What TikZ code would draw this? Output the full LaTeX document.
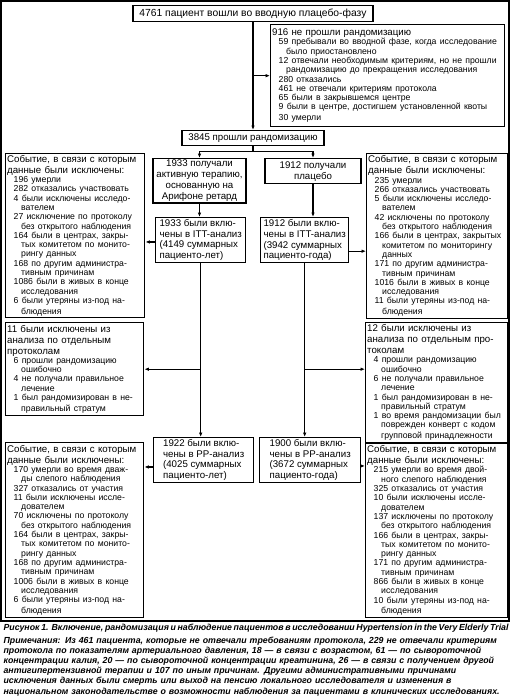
\documentclass[tikz,border=0pt]{standalone}
\usepackage{fontspec}
\setmainfont{Liberation Sans}
\usetikzlibrary{arrows.meta,positioning,calc}
\newcommand{\hd}{\fontsize{9.7}{10.8}\selectfont}
\newcommand{\sm}{\fontsize{8.7}{9.3}\selectfont}
\newcommand{\tp}{\fontsize{10.3}{12}\selectfont}
\newcommand{\capf}{\fontsize{8.8}{10.2}\selectfont\bfseries\itshape}
\newcommand{\ia}{\hspace*{6.5pt}}
\newcommand{\ib}{\hspace*{14pt}}
\newcommand{\capl}[1]{\makebox[505pt][s]{#1}}

\begin{document}
\begin{tikzpicture}[x=1pt,y=-1pt,font=\hd,line width=1.1pt,
  b/.style={draw,line width=1.4pt,anchor=north west,align=left,inner sep=1.5pt},
  c/.style={b,align=center},
  >={Latex[length=4.5pt,width=3.6pt]}]
\useasboundingbox (0,0) rectangle (510,696);
\draw[line width=1.4pt] (1,1) rectangle (509,621);
\node[b,anchor=north,minimum width=240pt,minimum height=16pt,font=\tp] (in) at (253,5) {4761 пациент вошли во вводную плацебо-фазу};
\node[b,text width=231pt,minimum height=102pt] (ex0) at (270,24) {916 не прошли рандомизацию\\
\sm\ia 59 пребывали во вводной фазе, когда исследование\\
\ib было приостановлено\\
\ia 12 отвечали необходимым критериям, но не прошли\\
\ib рандомизацию до прекращения исследования\\
\ia 280 отказались\\
\ia 461 не отвечали критериям протокола\\
\ia 65 были в закрывшемся центре\\
\ia 9 были в центре, достигшем установленной квоты\\
\ia 30 умерли};
\node[b,anchor=north,minimum width=142pt,minimum height=15pt] (rnd) at (253,130) {3845 прошли рандомизацию};
\node[c,anchor=north,minimum width=93pt,minimum height=43pt] (act) at (199.5,158) {1933 получали\\активную терапию,\\основанную на\\Арифоне ретард};
\node[c,anchor=north,minimum width=96pt,minimum height=25pt] (plc) at (313,158) {1912 получали\\плацебо};
\node[b,minimum width=90pt,minimum height=44pt] (itta) at (155,217) {1933 были вклю-\\чены в ITT-анализ\\(4149 суммарных\\пациенто-лет)};
\node[b,minimum width=88pt,minimum height=45pt] (ittp) at (260,217) {1912 были вклю-\\чены в ITT-анализ\\(3942 суммарных\\пациенто-года)};
\node[b,text width=136pt,minimum height=164pt] (exL1) at (5,153) {Событие, в связи с которым\\данные были исключены:\\
\sm\ia 196 умерли\\
\ia 282 отказались участвовать\\
\ia 4 были исключены исследо-\\
\ib вателем\\
\ia 27 исключение по протоколу\\
\ib без открытого наблюдения\\
\ia 164 были в центрах, закры-\\
\ib тых комитетом по монито-\\
\ib рингу данных\\
\ia 168 по другим администра-\\
\ib тивным причинам\\
\ia 1086 были в живых в конце\\
\ib исследования\\
\ia 6 были утеряны из-под на-\\
\ib блюдения};
\node[b,text width=138pt,minimum height=165pt] (exR1) at (366,153) {Событие, в связи с которым\\данные были исключены:\\
\sm\ia 235 умерли\\
\ia 266 отказались участвовать\\
\ia 5 были исключены исследо-\\
\ib вателем\\
\ia 42 исключены по протоколу\\
\ib без открытого наблюдения\\
\ia 166 были в центрах, закрытых\\
\ib комитетом по мониторингу\\
\ib данных\\
\ia 171 по другим администра-\\
\ib тивным причинам\\
\ia 1016 были в живых в конце\\
\ib исследования\\
\ia 11 были утеряны из-под на-\\
\ib блюдения};
\node[b,text width=135pt,minimum height=93pt] (exL2) at (5,322) {11 были исключены из\\анализа по отдельным\\протоколам\\
\sm\ia 6 прошли рандомизацию\\
\ib ошибочно\\
\ia 4 не получали правильное\\
\ib лечение\\
\ia 1 был рандомизирован в не-\\
\ib правильный стратум};
\node[b,text width=139pt,minimum height=120pt] (exR2) at (365,322) {12 были исключены из\\анализа по отдельным про-\\токолам\\
\sm\ia 4 прошли рандомизацию\\
\ib ошибочно\\
\ia 6 не получали правильное\\
\ib лечение\\
\ia 1 был рандомизирован в не-\\
\ib правильный стратум\\
\ia 1 во время рандомизации был\\
\ib поврежден конверт с кодом\\
\ib групповой принадлежности};
\node[b,minimum width=100pt,minimum height=43pt] (ppa) at (153,437) {1922 были вклю-\\чены в PP-анализ\\(4025 суммарных\\пациенто-лет)};
\node[b,minimum width=101pt,minimum height=43pt] (ppp) at (259,437) {1900 были вклю-\\чены в PP-анализ\\(3672 суммарных\\пациенто-года)};
\node[b,text width=135pt,minimum height=175pt] (exL3) at (5,442) {Событие, в связи с которым\\данные были исключены:\\
\sm\ia 170 умерли во время дваж-\\
\ib ды слепого наблюдения\\
\ia 327 отказались от участия\\
\ia 11 были исключены иссле-\\
\ib дователем\\
\ia 70 исключены по протоколу\\
\ib без открытого наблюдения\\
\ia 164 были в центрах, закры-\\
\ib тых комитетом по монито-\\
\ib рингу данных\\
\ia 168 по другим администра-\\
\ib тивным причинам\\
\ia 1006 были в живых в конце\\
\ib исследования\\
\ia 6 были утеряны из-под на-\\
\ib блюдения};
\node[b,text width=139pt,minimum height=174pt] (exR3) at (365,443) {Событие, в связи с которым\\данные были исключены:\\
\sm\ia 215 умерли во время двой-\\
\ib ного слепого наблюдения\\
\ia 325 отказались от участия\\
\ia 10 были исключены иссле-\\
\ib дователем\\
\ia 137 исключены по протоколу\\
\ib без открытого наблюдения\\
\ia 166 были в центрах, закры-\\
\ib тых комитетом по монито-\\
\ib рингу данных\\
\ia 171 по другим администра-\\
\ib тивным причинам\\
\ia 866 были в живых в конце\\
\ib исследования\\
\ia 10 были утеряны из-под на-\\
\ib блюдения};
\node[anchor=west,inner sep=0pt,font=\capf] (cap) at (3,628) {\capl{Рисунок 1. Включение, рандомизация и наблюдение пациентов в исследовании Hypertension in the Very Elderly Trial}};
\node[anchor=north west,inner sep=0pt,text width=505pt,align=left,font=\capf] (nts) at (3,636) {\capl{Примечания: Из 461 пациента, которые не отвечали требованиям протокола, 229 не отвечали критериям}\\
\capl{протокола по показателям артериального давления, 18 — в связи с возрастом, 61 — по сывороточной}\\
\capl{концентрации калия, 20 — по сывороточной концентрации креатинина, 26 — в связи с получением другой}\\
\capl{антигипертензивной терапии и 107 по иным причинам. Другими административными причинами}\\
\capl{исключения данных были смерть или выход на пенсию локального исследователя и изменения в}\\
\capl{национальном законодательстве о возможности наблюдения за пациентами в клинических исследованиях.}};
\coordinate (jr) at (ittp.south |- exL2.east);
\draw[->] (in) -- (rnd);
\draw[->] (in.south |- ex0.west) -- (ex0.west);
\draw[->] (rnd.south) -- ++(0,5) -| (act.north);
\draw[->] (rnd.south) -- ++(0,5) -| (plc.north);
\draw[->] (act.south) -- (act.south |- itta.north);
\draw[->] (plc.south) -- (plc.south |- ittp.north);
\draw[->] ([yshift=-2pt]itta.west) -- ([yshift=-2pt]itta.west -| exL1.east);
\draw[->] ([yshift=-11pt]ittp.east) -- ([yshift=-11pt]ittp.east -| exR1.west);
\draw[->] (itta.south) -- (itta.south |- ppa.north);
\draw[->] (itta.south |- exL2.east) -- (exL2.east);
\draw[->] (ittp.south) -- (ittp.south |- ppp.north);
\draw[->] (jr) -- (jr -| exR2.west);
\draw[->] ([yshift=-7pt]ppa.west) -- ([yshift=-7pt]ppa.west -| exL3.east);
\draw[->] ([yshift=-6pt]ppp.east) -- ([yshift=-6pt]ppp.east -| exR3.west);
\end{tikzpicture}
\end{document}
